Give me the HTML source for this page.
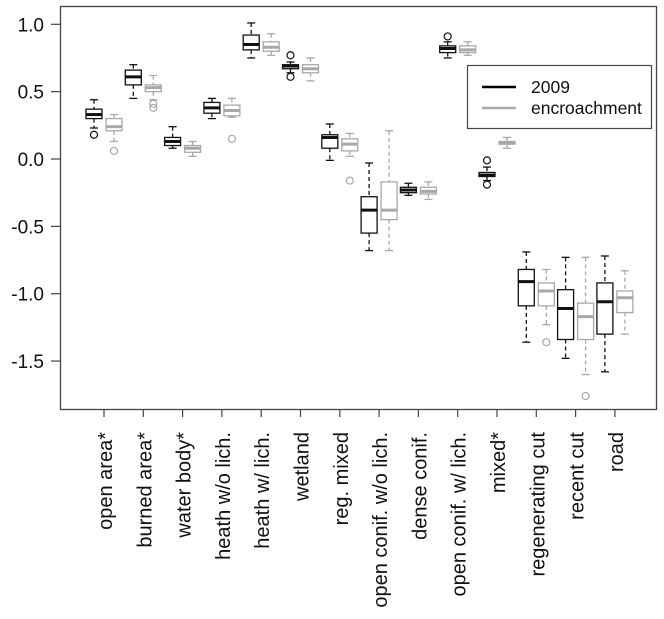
<!DOCTYPE html>
<html><head><meta charset="utf-8"><style>
body{margin:0;background:#fff;}
svg{display:block;font-family:"Liberation Sans",Arial,sans-serif;}
</style></head><body>
<svg id="chart" width="664" height="619" viewBox="0 0 664 619" xmlns="http://www.w3.org/2000/svg">
<rect x="60.5" y="6.5" width="596" height="403" fill="none" stroke="#444" stroke-width="1.3"/>
<g id="yaxis"></g>
<g id="xaxis"></g>
<g id="marks"></g>
<g>
<rect x="467.5" y="65.5" width="184" height="63" fill="#fff" stroke="#444" stroke-width="1.2"/>
<line x1="482" y1="87" x2="516" y2="87" stroke="#000" stroke-width="2.5"/>
<text x="531" y="93" font-size="17.5" fill="#111">2009</text>
<line x1="482" y1="108" x2="516" y2="108" stroke="#aaa" stroke-width="2.5"/>
<text x="531" y="114" font-size="17.5" fill="#111">encroachment</text>
</g>
</svg>
<script>
const categories=["open area*","burned area*","water body*","heath w/o lich.","heath w/ lich.","wetland","reg. mixed","open conif. w/o lich.","dense conif.","open conif. w/ lich.","mixed*","regenerating cut","recent cut","road"];
// [lowerWhisker, q1, median, q3, upperWhisker]
const s2009=[[0.23,0.30,0.33,0.37,0.44],[0.45,0.55,0.61,0.66,0.70],[0.08,0.10,0.13,0.16,0.24],[0.30,0.34,0.38,0.42,0.45],[0.75,0.81,0.85,0.92,1.01],[0.64,0.67,0.69,0.70,0.72],[-0.01,0.08,0.16,0.18,0.26],[-0.68,-0.55,-0.38,-0.28,-0.03],[-0.27,-0.25,-0.23,-0.21,-0.18],[0.75,0.79,0.82,0.84,0.87],[-0.16,-0.13,-0.12,-0.10,-0.06],[-1.36,-1.09,-0.91,-0.82,-0.69],[-1.48,-1.34,-1.11,-0.97,-0.73],[-1.58,-1.30,-1.06,-0.92,-0.72]];
const sEnc=[[0.13,0.21,0.24,0.30,0.33],[0.44,0.50,0.53,0.55,0.62],[0.02,0.05,0.08,0.10,0.13],[0.31,0.32,0.36,0.40,0.45],[0.77,0.80,0.83,0.87,0.93],[0.58,0.64,0.67,0.70,0.75],[0.02,0.06,0.11,0.15,0.19],[-0.68,-0.45,-0.38,-0.17,0.21],[-0.30,-0.26,-0.24,-0.21,-0.17],[0.77,0.79,0.81,0.84,0.87],[0.08,0.11,0.12,0.13,0.16],[-1.23,-1.09,-0.98,-0.92,-0.82],[-1.60,-1.34,-1.17,-1.07,-0.73],[-1.30,-1.14,-1.03,-0.98,-0.83]];
const out2009=[[0.18],[],[],[],[],[0.77,0.61],[],[],[],[0.91],[-0.01,-0.19],[],[],[]];
const outEnc=[[0.06],[0.41,0.38],[],[0.15],[],[],[-0.16],[],[],[],[],[-1.36],[-1.76],[]];
const yTicks=[1.0,0.5,0.0,-0.5,-1.0,-1.5];
const yTickLabels=["1.0","0.5","0.0","-0.5","-1.0","-1.5"];

const NS="http://www.w3.org/2000/svg";
function y(v){return 159-v*134.7;}
function x(i){return 104+i*39.3;}
function mk(tag,attrs,parent){const e=document.createElementNS(NS,tag);for(const k in attrs)e.setAttribute(k,attrs[k]);parent.appendChild(e);return e;}
const ya=document.getElementById('yaxis'),xa=document.getElementById('xaxis'),mg=document.getElementById('marks');
yTicks.forEach((t,i)=>{
  const l=mk('line',{x1:51,x2:60,y1:y(t),y2:y(t),stroke:'#444','stroke-width':1.2},ya);
  
  
  const tx=mk('text',{x:44,y:y(t)+7,'font-size':19,'text-anchor':'end',fill:'#111'},ya);
  tx.textContent=yTickLabels[i];
  
  
});
categories.forEach((c,i)=>{
  const l=mk('line',{x1:x(i),x2:x(i),y1:409,y2:417,stroke:'#444','stroke-width':1.2},xa);
  
  
  const tx=mk('text',{x:0,y:0,'font-size':20,'text-anchor':'end',fill:'#111',transform:'translate('+(x(i)+8)+',432) rotate(-90)'},xa);
  tx.textContent=c;
  
  
});
function box(st,outs,cx,col,name){
  const g=mk('g',{},mg);
  
  
  const [lo,q1,md,q3,hi]=st;
  mk('line',{x1:cx,x2:cx,y1:y(hi),y2:y(q3),stroke:col,'stroke-width':1.3,'stroke-dasharray':'4,3'},g);
  mk('line',{x1:cx,x2:cx,y1:y(q1),y2:y(lo),stroke:col,'stroke-width':1.3,'stroke-dasharray':'4,3'},g);
  mk('line',{x1:cx-4,x2:cx+4,y1:y(hi),y2:y(hi),stroke:col,'stroke-width':1.3},g);
  mk('line',{x1:cx-4,x2:cx+4,y1:y(lo),y2:y(lo),stroke:col,'stroke-width':1.3},g);
  mk('rect',{x:cx-8,y:y(q3),width:16,height:Math.max(1,y(q1)-y(q3)),fill:'#fff',stroke:col,'stroke-width':1.3},g);
  mk('line',{x1:cx-8,x2:cx+8,y1:y(md),y2:y(md),stroke:col,'stroke-width':3},g);
  outs.forEach(o=>mk('circle',{cx:cx,cy:y(o),r:3.5,fill:'none',stroke:col,'stroke-width':1.2},g));
}
categories.forEach((c,i)=>{
  box(s2009[i],out2009[i],x(i)-10,'#111','box-2009');
  box(sEnc[i],outEnc[i],x(i)+10,'#a8a8a8','box-encroachment');
});
</script>
</body></html>
